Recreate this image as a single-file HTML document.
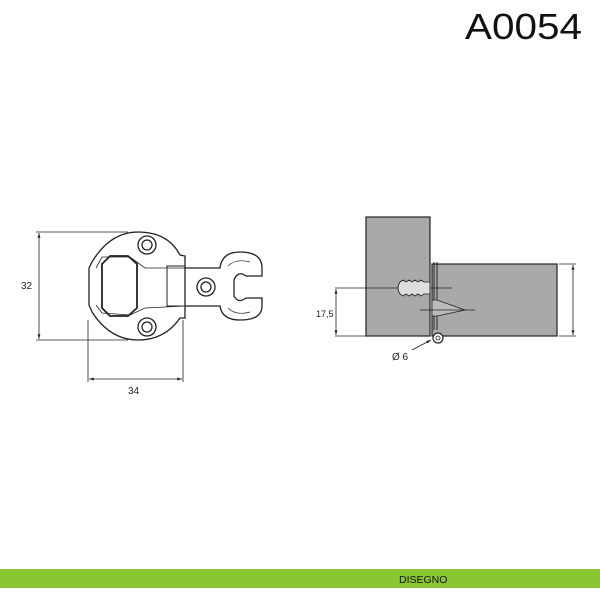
<!DOCTYPE html>
<html><head><meta charset="utf-8"><style>
html,body{margin:0;padding:0;background:#fff;}
body{width:600px;height:600px;position:relative;overflow:hidden;font-family:"Liberation Sans",sans-serif;}
</style></head><body>
<svg width="600" height="600" viewBox="0 0 600 600" xmlns="http://www.w3.org/2000/svg" style="position:absolute;left:0;top:0">
<defs><marker id="a" viewBox="0 0 10 10" refX="10" refY="5" markerWidth="6" markerHeight="6" orient="auto-start-reverse"><path d="M0 2 L10 5 L0 8 Z" fill="#222"/></marker></defs>
<text x="465" y="39" font-size="36" font-family="Liberation Sans" fill="#111" textLength="117" lengthAdjust="spacingAndGlyphs">A0054</text>
<g fill="none" stroke="#222" stroke-width="1.3">
<line x1="36" y1="232" x2="128" y2="232" stroke-width="0.8"/>
<line x1="36" y1="340" x2="128" y2="340" stroke-width="0.8"/>
<line x1="39" y1="233" x2="39" y2="339" stroke-width="0.8" marker-start="url(#a)" marker-end="url(#a)"/>
<line x1="88" y1="320" x2="88" y2="382" stroke-width="0.8"/>
<line x1="183" y1="320" x2="183" y2="382" stroke-width="0.8"/>
<line x1="89" y1="379" x2="182" y2="379" stroke-width="0.8" marker-start="url(#a)" marker-end="url(#a)"/>
<path d="M92 262 Q110 232 138 232 Q168 232 180 255 L185 256 L185 318 L180 318 Q165 340 138 340 Q110 340 92 312 L89 305 L89 268 Z"/>
<path d="M96 268 L102 257 L130 257 L145 268 L185 268 M96 305 L102 313 L130 315 L145 308 L185 306" stroke-width="0.8"/>
<path d="M102 264 L110 256 L128 256 L137 264 L137 308 L128 316 L110 316 L102 308 Z" stroke-width="1.8"/>
<circle cx="147" cy="245" r="9"/><circle cx="147" cy="245" r="5"/>
<circle cx="147" cy="327" r="9"/><circle cx="147" cy="327" r="5"/>
<rect x="167" y="266" width="18" height="40" stroke-width="1"/>
<path d="M185 268 L220 268 Q222 252 240 252 Q262 252 262 268 L262 276 L246 276 Q238 270 234 280 L234 296 Q238 304 246 298 L262 298 L262 306 Q262 320 240 320 Q222 320 220 306 L185 306"/>
<path d="M228 266 Q236 258 250 262 M228 308 Q236 316 250 312" stroke-width="0.7"/>
<circle cx="206" cy="287" r="9"/><circle cx="206" cy="287" r="5"/>
</g>
<text x="21" y="289" font-size="10" fill="#222">32</text>
<text x="128" y="394" font-size="10" fill="#222">34</text>
<rect x="366" y="217" width="64" height="119" fill="#a9a9a9" stroke="#222" stroke-width="1.2"/>
<rect x="432" y="264" width="125" height="72" fill="#a9a9a9" stroke="#222" stroke-width="1.2"/>
<g fill="none" stroke="#222" stroke-width="0.8">
<line x1="559" y1="264" x2="576" y2="264"/><line x1="559" y1="336" x2="576" y2="336"/>
<line x1="573" y1="265" x2="573" y2="335" marker-start="url(#a)" marker-end="url(#a)"/>
<line x1="335" y1="288" x2="400" y2="288"/><line x1="335" y1="336" x2="366" y2="336"/>
<line x1="336" y1="289" x2="336" y2="335" marker-start="url(#a)" marker-end="url(#a)"/>
<path d="M400 282 L403 280 L406 282 L409 280 L412 282 L415 280 L418 282 L421 280 L424 282 L430 282 L430 294 L424 294 L421 296 L418 294 L415 296 L412 294 L409 296 L406 294 L403 296 L400 294 Q396 288 400 282 Z" fill="#ddd"/>
<line x1="430" y1="288" x2="452" y2="288"/>
<path d="M434 262 L434 330 M437 262 L437 330" stroke-width="1"/>
<path d="M432 300 L437 300 L465 310 L437 316 L432 316 Z" fill="#bbb"/>
<line x1="420" y1="310" x2="475" y2="310"/>
<circle cx="438" cy="338" r="5" fill="#fff" stroke-width="1.2"/><circle cx="438" cy="338" r="2"/>
<line x1="412" y1="350" x2="431" y2="340" marker-end="url(#a)"/>
</g>
<text x="316" y="317" font-size="9" fill="#222">17,5</text>
<text x="392" y="360" font-size="10" fill="#222">Ø 6</text>
<rect x="0" y="569" width="600" height="19" fill="#8ac634"/>
<text x="399" y="583" font-size="10.5" fill="#111">DISEGNO</text>
</svg>
</body></html>
